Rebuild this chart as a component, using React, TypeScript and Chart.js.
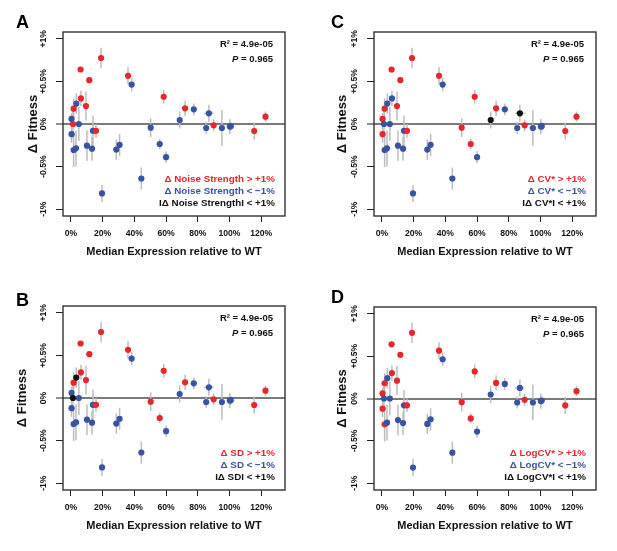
import React, { useEffect, useRef } from "react";
import { Chart, registerables } from "chart.js";

Chart.register(...registerables);

const FONT = "'Liberation Sans', Arial, Helvetica, sans-serif";

// one point per strain: median expression relative to WT (%) and Δ fitness (%)
const expression = [
  0.4, 0.4, 1.3, 1.7, 1.7, 3.2, 3.4, 5.0, 6.3, 6.1, 9.5, 10.1, 11.6, 13.3, 13.9, 15.8, 19.0, 19.6, 28.6,
  30.7, 36.0, 38.3, 44.4, 50.3, 56.0, 58.5, 60.0, 68.6, 72.0, 77.5, 87.0, 85.3, 90.0, 95.2, 100.2, 100.8,
  115.6, 122.7,
];
const fitness = [
  0.06, -0.12, 0.0, 0.18, -0.305, -0.285, 0.24, 0.0, 0.3, 0.64, 0.21, -0.255, 0.515, -0.29, -0.08, -0.08,
  0.775, -0.815, -0.3, -0.245, 0.565, 0.463, -0.64, -0.043, -0.235, 0.32, -0.39, 0.047, 0.184, 0.172,
  0.125, -0.047, -0.016, -0.047, -0.03, -0.025, -0.082, 0.086,
];
const fitnessErr = [
  0.07, 0.1, 0.15, 0.12, 0.2, 0.21, 0.12, 0.2, 0.09, 0.02, 0.17, 0.18, 0.02, 0.14, 0.18, 0.08, 0.12, 0.1,
  0.12, 0.13, 0.1, 0.08, 0.13, 0.11, 0.06, 0.08, 0.07, 0.1, 0.09, 0.07, 0.1, 0.07, 0.07, 0.21, 0.09, 0.05,
  0.1, 0.06,
];
const expressionErr = [
  0, 0, 0, 0, 0, 0, 0, 0, 0, 0, 0, 0, 0, 0, 0, 0, 0, 0, 0, 0, 0, 0, 0, 0, 0, 0, 0, 0, 0, 0, 3, 0, 0, 0, 0,
  0, 0, 0,
];

// r = above +1%, b = below -1%, k = within ±1%
const classesA = "b b r r b b b b r r r b r b b r r b b b r b b b b r b b r b b b r b b b r r".split(" ");
const classesB = "b b k r b b k b r r r b r b b r r b b b r b b r r r b b r b b b r b b b r r".split(" ");
const classesC = "r r b r b b b b b r r b r b b r r b b b r b b r r r b k r b k b r b b b r r".split(" ");
const classesD = "r r b r r b b b r r r b r b b r r b b b r b b r r r b b r b b b r b b b r r".split(" ");

const legendA = ["Δ Noise Strength > +1%", "Δ Noise Strength < −1%", "IΔ Noise StrengthI < +1%"];
const legendB = ["Δ SD > +1%", "Δ SD < −1%", "IΔ SDI < +1%"];
const legendC = ["Δ CV* > +1%", "Δ CV* < −1%", "IΔ CV*I < +1%"];
const legendD = ["Δ LogCV* > +1%", "Δ LogCV* < −1%", "IΔ LogCV*I < +1%"];

const xTicks = [0, 20, 40, 60, 80, 100, 120];
const yTicks = [-1, -0.5, 0, 0.5, 1];
const statLines = ["R² = 4.9e-05", "0.965"];

const RED = "#e8262b";
const BLUE = "#3853a4";
const BLACK = "#111111";
const PALETTE: Record<string, string> = { r: RED, b: BLUE, k: BLACK };
const LEGEND_COLORS = [RED, BLUE, BLACK];

interface PanelProps {
  letter: string;
  classes: string[];
  legend: string[];
  width: number;
  height: number;
  top: number;
  bottom: number;
  titleX: number;
  letterX: number;
  letterY: number;
}

function Panel({ letter, classes, legend, width, height, top, bottom, titleX, letterX, letterY }: PanelProps) {
  const canvasRef = useRef<HTMLCanvasElement | null>(null);
  const chartRef = useRef<Chart | null>(null);

  useEffect(() => {
    if (!canvasRef.current) return;
    if (chartRef.current) chartRef.current.destroy();

    const errorBars = {
      id: "errorBars",
      beforeDatasetsDraw(chart: any) {
        const { ctx, scales } = chart;
        const xs = scales.x;
        const ys = scales.y;
        ctx.save();
        ctx.strokeStyle = "#bdbdbd";
        ctx.lineWidth = 1.5;
        expression.forEach((ex, i) => {
          const px = xs.getPixelForValue(ex);
          const py = ys.getPixelForValue(fitness[i]);
          ctx.beginPath();
          ctx.moveTo(px, ys.getPixelForValue(fitness[i] - fitnessErr[i]));
          ctx.lineTo(px, ys.getPixelForValue(fitness[i] + fitnessErr[i]));
          if (expressionErr[i] > 0) {
            ctx.moveTo(xs.getPixelForValue(ex - expressionErr[i]), py);
            ctx.lineTo(xs.getPixelForValue(ex + expressionErr[i]), py);
          }
          ctx.stroke();
        });
        ctx.restore();
      },
    };

    const annotations = {
      id: "annotations",
      afterDraw(chart: any) {
        const { ctx, chartArea } = chart;
        ctx.save();
        ctx.strokeStyle = "#333333";
        ctx.lineWidth = 1.4;
        ctx.strokeRect(chartArea.left, chartArea.top, chartArea.right - chartArea.left, chartArea.bottom - chartArea.top);

        ctx.fillStyle = "#000000";
        ctx.textBaseline = "alphabetic";
        ctx.textAlign = "left";
        ctx.font = `bold 18px ${FONT}`;
        ctx.fillText(letter, letterX, letterY);

        const right = chartArea.right - 12;
        ctx.textAlign = "right";
        ctx.textBaseline = "middle";
        ctx.font = `bold 9.5px ${FONT}`;
        ctx.fillStyle = "#111111";
        ctx.fillText(statLines[0], right, chartArea.top + 12);
        const rest = " = " + statLines[1];
        ctx.fillText(rest, right, chartArea.top + 27);
        const restW = ctx.measureText(rest).width;
        ctx.font = `italic bold 9.5px ${FONT}`;
        ctx.fillText("P", right - restW, chartArea.top + 27);

        ctx.font = `bold 9.8px ${FONT}`;
        legend.forEach((line, i) => {
          ctx.fillStyle = LEGEND_COLORS[i];
          ctx.fillText(line, chartArea.right - 10, chartArea.bottom - 37 + i * 12);
        });
        ctx.restore();
      },
    };

    chartRef.current = new Chart(canvasRef.current, {
      type: "scatter",
      data: {
        datasets: [
          {
            data: expression.map((ex, i) => ({ x: ex, y: fitness[i] })),
            pointBackgroundColor: classes.map(c => PALETTE[c]),
            pointBorderWidth: 0,
            pointRadius: 3.1,
          },
        ],
      },
      options: {
        responsive: false,
        animation: false,
        layout: { padding: { top, right: width - 63 - 222, left: 0, bottom: 0 } },
        plugins: { legend: { display: false }, tooltip: { enabled: false } },
        scales: {
          x: {
            type: "linear",
            min: -5,
            max: 135,
            afterFit: (scale: any) => {
              scale.height = height - bottom;
            },
            afterBuildTicks: (scale: any) => {
              scale.ticks = xTicks.map(v => ({ value: v }));
            },
            border: { display: false },
            grid: { drawOnChartArea: false, drawTicks: true, tickLength: 6, tickColor: "#222222", tickWidth: 1 },
            ticks: {
              color: "#111111",
              padding: 6,
              maxRotation: 0,
              autoSkip: false,
              font: { family: FONT, size: 8.6, weight: "bold" },
              callback: (v: any) => v + "%",
            },
            title: {
              display: true,
              text: "Median Expression relative to WT",
              color: "#111111",
              font: { family: FONT, size: 11, weight: "bold" },
              padding: { top: 0, bottom: height - bottom - 43 },
            },
          },
          y: {
            type: "linear",
            min: -1.08,
            max: 1.08,
            afterFit: (scale: any) => {
              scale.width = 63;
            },
            afterBuildTicks: (scale: any) => {
              scale.ticks = yTicks.map(v => ({ value: v }));
            },
            border: { display: false },
            grid: {
              drawOnChartArea: true,
              drawTicks: true,
              tickLength: 7,
              tickColor: "#222222",
              tickWidth: 1,
              color: (c: any) => (c.tick && c.tick.value === 0 ? "#7a7a7a" : "rgba(0,0,0,0)"),
              lineWidth: (c: any) => (c.tick && c.tick.value === 0 ? 2 : 1),
            },
            ticks: {
              color: "#111111",
              padding: 0,
              minRotation: 90,
              maxRotation: 90,
              crossAlign: "center",
              autoSkip: false,
              font: { family: FONT, size: 8.6, weight: "bold" },
              callback: (v: any) => (v > 0 ? "+" + v + "%" : v + "%"),
            },
            title: {
              display: true,
              text: "Δ Fitness",
              color: "#111111",
              font: { family: FONT, size: 13, weight: "bold" },
              padding: { top: titleX - 7.8, bottom: 0 },
            },
          },
        },
      },
      plugins: [errorBars, annotations],
    } as any);

    return () => {
      if (chartRef.current) {
        chartRef.current.destroy();
        chartRef.current = null;
      }
    };
  }, [letter, classes, legend, width, height, top, bottom, titleX, letterX, letterY]);

  return <canvas ref={canvasRef} width={width} height={height} style={{ width, height, display: "block" }} />;
}

export default function App() {
  return (
    <div style={{ position: "absolute", left: 0, top: 0, width: 617, height: 551, background: "#ffffff" }}>
      <div style={{ position: "absolute", left: 0, top: 0 }}>
        <Panel letter="A" classes={classesA} legend={legendA} width={308} height={275} top={32} bottom={216} titleX={33} letterX={16} letterY={28} />
      </div>
      <div style={{ position: "absolute", left: 311, top: 0 }}>
        <Panel letter="C" classes={classesC} legend={legendC} width={306} height={275} top={32} bottom={216} titleX={31} letterX={20} letterY={28} />
      </div>
      <div style={{ position: "absolute", left: 0, top: 275 }}>
        <Panel letter="B" classes={classesB} legend={legendB} width={308} height={276} top={31} bottom={215} titleX={22} letterX={16} letterY={31} />
      </div>
      <div style={{ position: "absolute", left: 311, top: 275 }}>
        <Panel letter="D" classes={classesD} legend={legendD} width={306} height={276} top={32} bottom={215} titleX={31} letterX={20} letterY={28} />
      </div>
    </div>
  );
}
